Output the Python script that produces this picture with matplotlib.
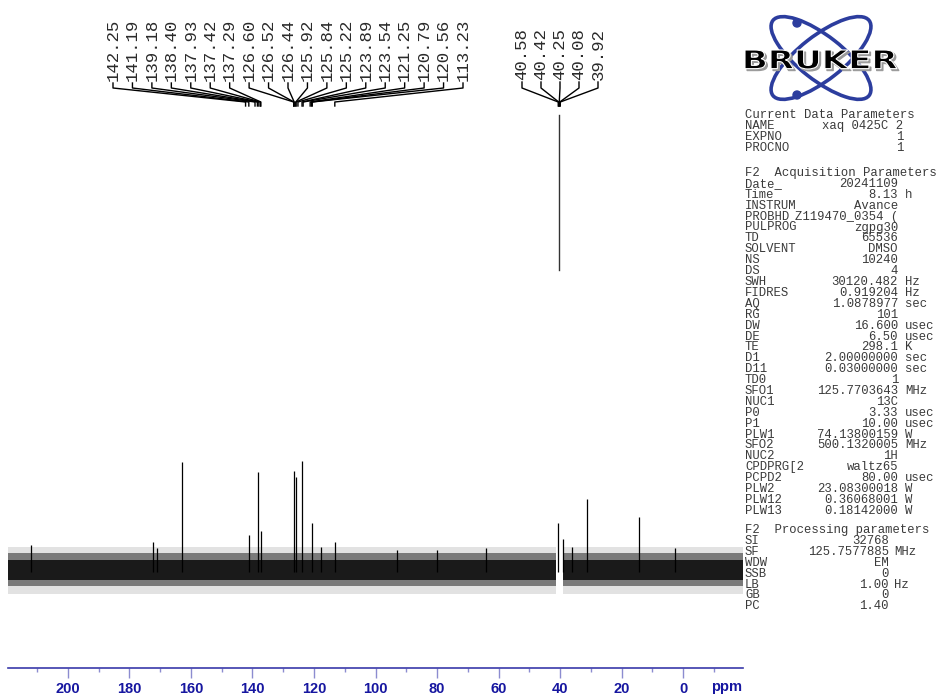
import numpy as np
import matplotlib
matplotlib.use("Agg")
import matplotlib.pyplot as plt
from matplotlib.patches import Ellipse, Circle, PathPatch
from matplotlib.textpath import TextPath
from matplotlib.font_manager import FontProperties
from matplotlib.transforms import Affine2D, blended_transform_factory
from matplotlib.ticker import MultipleLocator

# ---- spectrum data (ppm, relative height) ----
peak_ppm = [163.0, 141.1, 138.3, 137.1, 126.4, 125.8, 123.8, 120.7, 117.8, 113.3,
            40.5, 39.1, 36.0, 31.2, 14.4,
            212.0, 172.4, 171.0, 93.0, 80.0, 64.0, 2.6]
peak_height = [1.00, 0.34, 0.91, 0.37, 0.92, 0.86, 1.01, 0.45, 0.23, 0.27,
               0.45, 0.30, 0.23, 0.66, 0.50,
               0.25, 0.27, 0.22, 0.20, 0.20, 0.22, 0.22]

# noise band (ppm ranges and envelopes, outer to inner)
noise_ranges = [(219.5, 41.3), (39.0, -19.5)]
noise_bands = [(-0.20, 0.23), (-0.13, 0.17), (-0.07, 0.11)]
noise_colors = ["#e2e2e2", "#7a7a7a", "#1a1a1a"]

# peak pick labels
labels_arom = ["142.25", "141.19", "139.18", "138.40", "137.93", "137.42", "137.29",
               "126.60", "126.52", "126.44", "125.92", "125.84", "125.22", "123.89",
               "123.54", "121.25", "120.79", "120.56", "113.23"]
labels_dmso = ["40.58", "40.42", "40.25", "40.08", "39.92"]

# ---- parameter table ----
current_title = "Current Data Parameters"
current_rows = [("NAME", "xaq 0425C 2", ""), ("EXPNO", "1", ""), ("PROCNO", "1", "")]

acq_title = "F2  Acquisition Parameters"
acq_rows = [
    ("Date_", "20241109", ""), ("Time", "8.13", "h"), ("INSTRUM", "Avance", ""),
    ("PROBHD", "Z119470_0354 (", ""), ("PULPROG", "zgpg30", ""), ("TD", "65536", ""),
    ("SOLVENT", "DMSO", ""), ("NS", "10240", ""), ("DS", "4", ""),
    ("SWH", "30120.482", "Hz"), ("FIDRES", "0.919204", "Hz"), ("AQ", "1.0878977", "sec"),
    ("RG", "101", ""), ("DW", "16.600", "usec"), ("DE", "6.50", "usec"),
    ("TE", "298.1", "K"), ("D1", "2.00000000", "sec"), ("D11", "0.03000000", "sec"),
    ("TD0", "1", ""), ("SFO1", "125.7703643", "MHz"), ("NUC1", "13C", ""),
    ("P0", "3.33", "usec"), ("P1", "10.00", "usec"), ("PLW1", "74.13800159", "W"),
    ("SFO2", "500.1320005", "MHz"), ("NUC2", "1H", ""), ("CPDPRG[2", "waltz65", ""),
    ("PCPD2", "80.00", "usec"), ("PLW2", "23.08300018", "W"), ("PLW12", "0.36068001", "W"),
    ("PLW13", "0.18142000", "W"),
]

proc_title = "F2  Processing parameters"
proc_rows = [("SI", "32768", ""), ("SF", "125.7577885", "MHz"), ("WDW", "EM", ""),
             ("SSB", "0", ""), ("LB", "1.00", "Hz"), ("GB", "0", ""), ("PC", "1.40", "")]

W, H = 941, 695
fig = plt.figure(figsize=(W / 100, H / 100), dpi=100)

# spectrum axes: bottom spine at y=668 px, baseline at y=572 px, 110 px per unit
ax_left, ax_right, ax_bottom = 8, 743, 668
base_px, unit_px = 572, 110.0
ax = fig.add_axes([ax_left / W, (H - ax_bottom) / H, (ax_right - ax_left) / W, ax_bottom / H])
ax.set_xlim(219.5, -19.5)
ax.set_ylim(-(ax_bottom - base_px) / unit_px, base_px / unit_px)

for a, b in noise_ranges:
    for (lo, hi), col in zip(noise_bands, noise_colors):
        ax.fill_between([a, b], lo, hi, color=col, linewidth=0)
ax.vlines(peak_ppm, 0, peak_height, color="black", lw=0.9)

for s in ["left", "right", "top"]:
    ax.spines[s].set_visible(False)
ax.spines["bottom"].set_color("#3a3aaa")
ax.spines["bottom"].set_linewidth(1.2)
ax.set_yticks([])
ax.xaxis.set_major_locator(MultipleLocator(20))
ax.xaxis.set_minor_locator(MultipleLocator(10))
ax.tick_params(axis="x", which="major", length=7, width=1, color="#8c8cd0",
               labelcolor="#1616a0", labelsize=10.5, pad=3)
ax.tick_params(axis="x", which="minor", length=3, width=1, color="#8c8cd0")
plt.setp(ax.get_xticklabels(), fontweight="bold", family="Liberation Sans")
fig.text(727 / W, 1 - 687 / H, "ppm", color="#1616a0", fontsize=10.5,
         fontweight="bold", family="Liberation Sans", ha="center", va="center")

# ---- peak labels with connectors ----
trans = blended_transform_factory(ax.transData, ax.transAxes)

def yf(px):
    return (ax_bottom - px) / ax_bottom

def px2ppm(px):
    lo, hi = ax.get_xlim()
    return lo + (px - ax_left) / (ax_right - ax_left) * (hi - lo)

def label_group(labels, x0, x1, text_bottom, bend1, bend2, foot):
    xs = np.linspace(px2ppm(x0), px2ppm(x1), len(labels))
    for xl, lab in zip(xs, labels):
        v = float(lab)
        ax.text(xl, yf(text_bottom), lab, transform=trans, rotation=90, ha="center",
                va="bottom", family="Liberation Mono", fontsize=12.5, color="#2a2a2a")
        ax.plot([xl, xl, v, v], [yf(text_bottom + 2), yf(bend1), yf(bend2), yf(foot)],
                transform=trans, color="black", lw=1, clip_on=False)

label_group(labels_arom, 113, 463, 81, 88, 102, 106)
label_group(labels_dmso, 522, 598, 80, 88, 102, 106)
ax.plot([40.25, 40.25], [yf(115), yf(270)], transform=trans, color="#333333", lw=1)

# ---- decoration overlay in pixel coordinates ----
deco = fig.add_axes([0, 0, 1, 1])
deco.set_xlim(0, W)
deco.set_ylim(H, 0)
deco.axis("off")

logo_blue = "#2c3d9e"
for ang in (38, -38):
    deco.add_patch(Ellipse((821, 58), 122, 44, angle=ang, fill=False, ec=logo_blue, lw=2.6))
deco.add_patch(Circle((797, 23), 4, color=logo_blue))
deco.add_patch(Circle((797, 95), 4, color=logo_blue))

tp = TextPath((0, 0), "BRUKER", size=1, prop=FontProperties(family="DejaVu Sans", weight="bold"))
bb = tp.get_extents()
for dx, col in ((2, "#9a9a9a"), (0, "black")):
    tr = Affine2D().translate(-bb.x0, -bb.y0).scale(152 / bb.width, -19 / bb.height).translate(745 + dx, 69 + dx)
    deco.add_patch(PathPatch(tr.transform_path(tp), fc=col, ec="white" if dx == 0 else col, lw=0.8))

mono = dict(family="Liberation Mono", fontsize=8.8, color="#3a3a3a", va="center")
step = 10.9

def block(title, rows, y0, vright, uleft):
    deco.text(745, y0, title, ha="left", **mono)
    for i, (name, val, unit) in enumerate(rows):
        y = y0 + (i + 1) * step
        deco.text(745, y, name, ha="left", **mono)
        deco.text(vright, y, val, ha="right", **mono)
        if unit:
            deco.text(uleft, y, unit, ha="left", **mono)

block(current_title, current_rows, 115, 903, 908)
block(acq_title, acq_rows, 173, 898, 905)
block(proc_title, proc_rows, 530, 889, 894)

fig.savefig("out.png", dpi=100)
